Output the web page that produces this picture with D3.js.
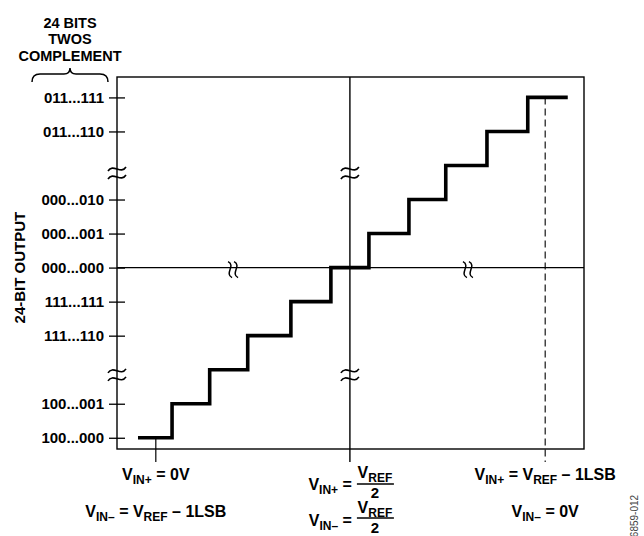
<!DOCTYPE html>
<html>
<head>
<meta charset="utf-8">
<script src="https://cdn.jsdelivr.net/npm/d3@7"></script>
<style>
  body { margin: 0; background: #fff; }
  svg { font-family: "Liberation Sans", Arial, sans-serif; font-weight: bold; }
</style>
</head>
<body>
<svg width="644" height="536"></svg>
<script>
// output codes (in LSB) that get a label on the left axis
const tickLevels = [5, 4, 2, 1, 0, -1, -2, -4, -5];
const tickLabels = ["011...111", "011...110", "000...010", "000...001", "000...000",
                    "111...111", "111...110", "100...001", "100...000"];

// staircase: output level of each step, and the input edges (LSB) between steps
const stepLevels = [-5, -4, -3, -2, -1, 0, 1, 2, 3, 4, 5];
const stepEdges = [-5.35, -4.49, -3.54, -2.58, -1.49, -0.48, 0.48, 1.49, 2.42, 3.46, 4.49, 5.5];

// input markers along the bottom (LSB) and the level where each one starts
const markInputs = [-4.9, 0, 4.93];
const markFrom = [-5, null, 5];

// break symbols
const yBreaks = [2.78, -3.15];
const xBreaks = [-2.95, 2.98];

// header lines
const headLines = ["24 BITS", "TWOS", "COMPLEMENT"];

// ==================================
// Setting the Stage
// ==================================
const svg = d3.select("svg");
const frame = {left: 117, right: 584, top: 77, bottom: 449};

const x = d3.scaleLinear().domain([-5.88, 5.91]).range([frame.left, frame.right]);
const y = d3.scaleLinear().domain([-5.33, 5.6]).range([frame.bottom, frame.top]);

const ink = "#000";

// frame
svg.append("rect")
  .attr("x", frame.left).attr("y", frame.top)
  .attr("width", frame.right - frame.left)
  .attr("height", frame.bottom - frame.top)
  .attr("fill", "none").attr("stroke", ink).attr("stroke-width", 1.4);

// zero line
svg.append("line")
  .attr("x1", frame.left).attr("x2", frame.right)
  .attr("y1", y(0)).attr("y2", y(0))
  .attr("stroke", ink).attr("stroke-width", 1.4);

// marker lines (down through the bottom edge)
markInputs.forEach((m, i) => {
  const line = svg.append("line")
    .attr("x1", x(m)).attr("x2", x(m))
    .attr("y1", markFrom[i] === null ? frame.top : y(markFrom[i]))
    .attr("y2", frame.bottom + 13)
    .attr("stroke", ink);
  if (i === 2) line.attr("stroke-width", 1.1).attr("stroke-dasharray", "7,4");
  else line.attr("stroke-width", i === 1 ? 1.4 : 1.2);
});

// ==================================
// Left axis
// ==================================
const yAxis = svg.append("g")
  .attr("transform", `translate(${frame.left},0)`)
  .call(d3.axisLeft(y)
    .tickValues(tickLevels)
    .tickFormat((d, i) => tickLabels[i])
    .tickSize(8)
    .tickPadding(5));

yAxis.select(".domain").remove();
yAxis.selectAll(".tick line").attr("x1", 8).attr("stroke", ink).attr("stroke-width", 1.3);
yAxis.selectAll(".tick text")
  .attr("fill", ink)
  .style("font-family", "'Liberation Sans', Arial, sans-serif")
  .style("font-weight", "bold")
  .style("font-size", "15px");

// ==================================
// Break symbols
// ==================================
const wave = "M-9,2 C-4,-6 4,6 9,-2";

[frame.left, x(0)].forEach(bx => {
  yBreaks.forEach(b => {
    [-4, 4].forEach(off => {
      svg.append("path")
        .attr("d", wave)
        .attr("transform", `translate(${bx},${y(b) + off})`)
        .attr("fill", "none").attr("stroke", ink).attr("stroke-width", 1.6);
    });
  });
});

xBreaks.forEach(b => {
  [-3, 3].forEach(off => {
    svg.append("path")
      .attr("d", "M-8,2 C-4,-6 4,6 8,-2")
      .attr("transform", `translate(${x(b) + off},${y(0) + 2}) rotate(90)`)
      .attr("fill", "none").attr("stroke", ink).attr("stroke-width", 1.5);
  });
});

// ==================================
// Drawing the staircase
// ==================================
const stairPts = stepLevels.map((l, i) => [stepEdges[i], l]);
stairPts.push([stepEdges[stepEdges.length - 1], stepLevels[stepLevels.length - 1]]);

svg.append("path")
  .datum(stairPts)
  .attr("d", d3.line().x(d => x(d[0])).y(d => y(d[1])).curve(d3.curveStepAfter))
  .attr("fill", "none")
  .attr("stroke", ink)
  .attr("stroke-width", 3.6)
  .attr("stroke-linejoin", "miter");

// ==================================
// Header + brace
// ==================================
headLines.forEach((t, i) => {
  svg.append("text")
    .attr("x", 70).attr("y", 28 + i * 16.3)
    .attr("text-anchor", "middle")
    .style("font-size", "14.5px")
    .text(t);
});

svg.append("path")
  .attr("d", "M32,82 Q32,74 40,74 L64,74 Q70,74 70,68 Q70,74 76,74 L100,74 Q108,74 108,82")
  .attr("fill", "none").attr("stroke", ink).attr("stroke-width", 1.5);

svg.append("text")
  .attr("transform", `translate(25,${y(0)}) rotate(-90)`)
  .attr("text-anchor", "middle")
  .style("font-size", "15px")
  .text("24-BIT OUTPUT");

// ==================================
// Bottom labels (with subscripts)
// ==================================
function richText(px, py, anchor, parts) {
  const t = svg.append("text")
    .attr("x", px).attr("y", py)
    .attr("text-anchor", anchor)
    .style("font-size", "16px");
  let low = false;
  parts.forEach(([s, sub]) => {
    const sp = t.append("tspan").text(s);
    if (sub && !low) { sp.attr("dy", 4).style("font-size", "12px"); low = true; }
    else if (sub) sp.style("font-size", "12px");
    else if (low) { sp.attr("dy", -4); low = false; }
  });
  return t;
}

const xL = x(markInputs[0]), xM = x(markInputs[1]), xR = x(markInputs[2]);

richText(xL, 480, "middle", [["V"], ["IN+", true], [" = 0V"]]);
richText(xL, 517, "middle", [["V"], ["IN–", true], [" = V"], ["REF", true], [" – 1LSB"]]);

richText(xR, 480, "middle", [["V"], ["IN+", true], [" = V"], ["REF", true], [" – 1LSB"]]);
richText(xR, 517, "middle", [["V"], ["IN–", true], [" = 0V"]]);

// middle: V = VREF / 2, twice
[[490, 478, 484, 498, "IN+"], [526, 513, 518, 533, "IN–"]].forEach(([base, num, bar, den, sub]) => {
  const fx = xM + 25;
  richText(xM + 2, base, "end", [["V"], [sub, true], [" ="]]);
  richText(fx, num, "middle", [["V"], ["REF", true]]);
  svg.append("line")
    .attr("x1", fx - 18).attr("x2", fx + 19)
    .attr("y1", bar).attr("y2", bar)
    .attr("stroke", ink).attr("stroke-width", 1.3);
  svg.append("text")
    .attr("x", fx).attr("y", den)
    .attr("text-anchor", "middle")
    .style("font-size", "15px")
    .text("2");
});

// figure number
svg.append("text")
  .attr("transform", "translate(638,516) rotate(-90)")
  .attr("text-anchor", "middle")
  .attr("fill", "#444")
  .style("font-weight", "normal")
  .style("font-size", "10px")
  .text("6859-012");
</script>
</body>
</html>
